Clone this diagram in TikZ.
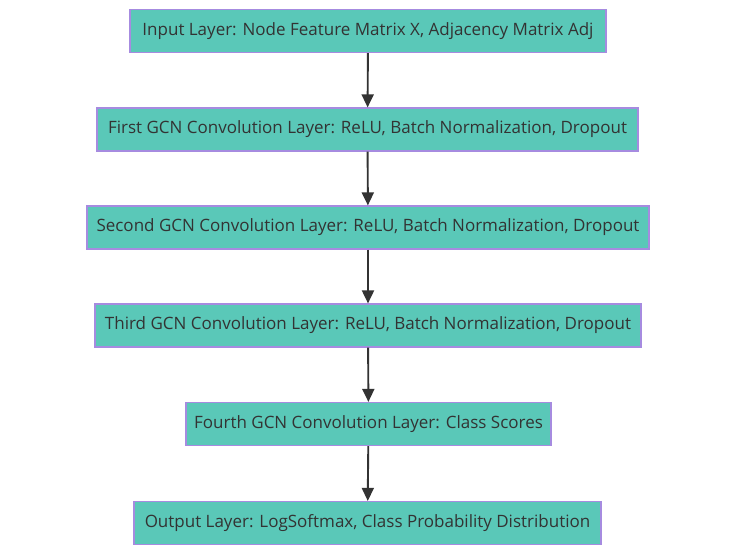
\documentclass[tikz,border=0pt]{standalone}
\usepackage{fontspec}
\setmainfont{Open Sans}
\usetikzlibrary{arrows.meta}
\definecolor{boxfill}{HTML}{5AC8B8}
\definecolor{boxline}{HTML}{A68BE0}
\definecolor{ink}{HTML}{333333}
\begin{document}
\begin{tikzpicture}[x=1pt,y=-1pt,
  layer/.style={draw=boxline, fill=boxfill, line width=1.2pt, minimum height=43pt,
    inner sep=0pt, text=ink, font=\fontsize{17}{20}\selectfont, anchor=center},
  flow/.style={draw=ink, line width=1.9pt, -{Triangle[width=12pt,length=13pt]}}]
\useasboundingbox (0,0) rectangle (736,555);
\node[layer, minimum width=476pt] (n1) at (368,31) {Input Layer: Node Feature Matrix X, Adjacency Matrix Adj};
\node[layer, minimum width=541pt] (n2) at (367.5,129.5) {First GCN Convolution Layer: ReLU, Batch Normalization, Dropout};
\node[layer, minimum width=562pt] (n3) at (368,227.5) {Second GCN Convolution Layer: ReLU, Batch Normalization, Dropout};
\node[layer, minimum width=546pt] (n4) at (368,325.5) {Third GCN Convolution Layer: ReLU, Batch Normalization, Dropout};
\node[layer, minimum width=365pt] (n5) at (368.5,424) {Fourth GCN Convolution Layer: Class Scores};
\node[layer, minimum width=467pt] (n6) at (367.5,523) {Output Layer: LogSoftmax, Class Probability Distribution};
\draw[flow] (n1) -- (n2);
\draw[flow] (n2) -- (n3);
\draw[flow] (n3) -- (n4);
\draw[flow] (n4) -- (n5);
\draw[flow] (n5) -- (n6);
\end{tikzpicture}
\end{document}
